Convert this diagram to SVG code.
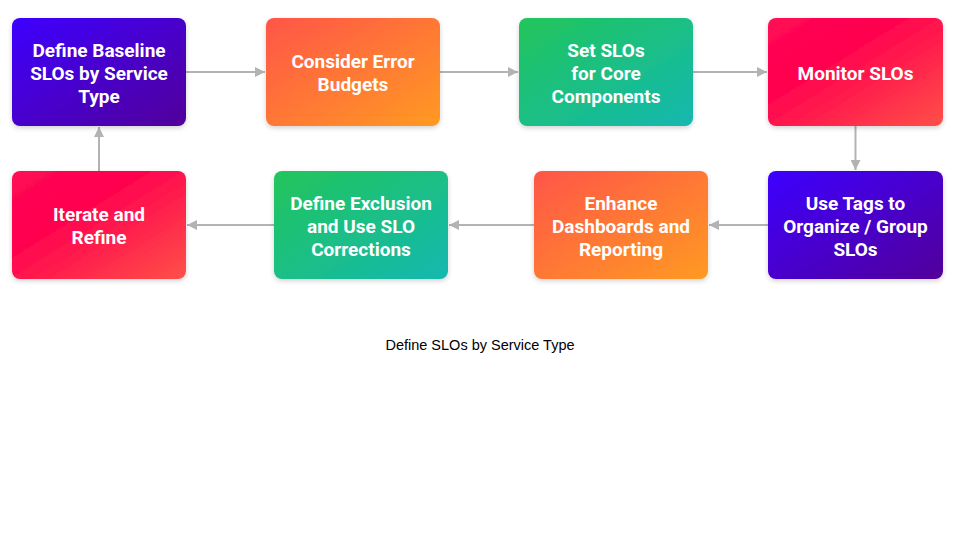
<svg xmlns="http://www.w3.org/2000/svg" width="960" height="540" viewBox="0 0 960 540">
<defs>
<linearGradient id="gPurple" x1="0" y1="0" x2="1" y2="1"><stop offset="0" stop-color="#3d00ff"/><stop offset="1" stop-color="#520099"/></linearGradient>
<linearGradient id="gOrange" x1="0" y1="0" x2="1" y2="1"><stop offset="0" stop-color="#ff5548"/><stop offset="1" stop-color="#ff9a22"/></linearGradient>
<linearGradient id="gGreen" x1="0" y1="0" x2="1" y2="1"><stop offset="0" stop-color="#22c55a"/><stop offset="1" stop-color="#14b8b0"/></linearGradient>
<linearGradient id="gRed" x1="0" y1="0" x2="1" y2="1"><stop offset="0" stop-color="#ff0a55"/><stop offset="0.35" stop-color="#ff0050"/><stop offset="1" stop-color="#ff5048"/></linearGradient>
<filter id="sh" x="-10%" y="-10%" width="120%" height="130%"><feDropShadow dx="0" dy="2" stdDeviation="2.5" flood-color="#000" flood-opacity="0.18"/></filter>
<marker id="ah" viewBox="0 0 10 10" refX="10" refY="5" markerWidth="5" markerHeight="5" orient="auto" markerUnits="strokeWidth"><path d="M0,0 L10,5 L0,10 z" fill="#b3b3b3"/></marker>
</defs>
<style>
.box{filter:url(#sh);}
.t{font-family:Roboto,"Liberation Sans",sans-serif;font-weight:bold;font-size:19px;fill:#ffffff;text-anchor:middle;}
.c{fill:none;stroke:#b3b3b3;stroke-width:2;marker-end:url(#ah);}
.cap{font-family:"Liberation Sans",Arial,sans-serif;font-size:14.5px;fill:#000;text-anchor:middle;}
</style>
<rect width="960" height="540" fill="#ffffff"/>
<g id="connectors">
<line class="c" x1="186" y1="72" x2="265" y2="72"/>
<line class="c" x1="440" y1="72" x2="518" y2="72"/>
<line class="c" x1="693" y1="72" x2="767" y2="72"/>
<line class="c" x1="855.5" y1="126" x2="855.5" y2="170"/>
<line class="c" x1="768" y1="225" x2="709" y2="225"/>
<line class="c" x1="534" y1="225" x2="449" y2="225"/>
<line class="c" x1="274" y1="225" x2="187" y2="225"/>
<line class="c" x1="99" y1="171" x2="99" y2="127"/>
</g>
<g id="n1"><rect class="box" x="12" y="18" width="174" height="108" rx="8" fill="url(#gPurple)"/>
<text class="t" x="99" y="56.5">Define Baseline</text><text class="t" x="99" y="79.5">SLOs by Service</text><text class="t" x="99" y="102.5">Type</text></g>
<g id="n2"><rect class="box" x="266" y="18" width="174" height="108" rx="8" fill="url(#gOrange)"/>
<text class="t" x="353" y="68">Consider Error</text><text class="t" x="353" y="91">Budgets</text></g>
<g id="n3"><rect class="box" x="519" y="18" width="174" height="108" rx="8" fill="url(#gGreen)"/>
<text class="t" x="606" y="56.5">Set SLOs</text><text class="t" x="606" y="79.5">for Core</text><text class="t" x="606" y="102.5">Components</text></g>
<g id="n4"><rect class="box" x="768" y="18" width="175" height="108" rx="8" fill="url(#gRed)"/>
<text class="t" x="855.5" y="79.5">Monitor SLOs</text></g>
<g id="n5"><rect class="box" x="768" y="171" width="175" height="108" rx="8" fill="url(#gPurple)"/>
<text class="t" x="855.5" y="209.5">Use Tags to</text><text class="t" x="855.5" y="232.5">Organize / Group</text><text class="t" x="855.5" y="255.5">SLOs</text></g>
<g id="n6"><rect class="box" x="534" y="171" width="174" height="108" rx="8" fill="url(#gOrange)"/>
<text class="t" x="621" y="209.5">Enhance</text><text class="t" x="621" y="232.5">Dashboards and</text><text class="t" x="621" y="255.5">Reporting</text></g>
<g id="n7"><rect class="box" x="274" y="171" width="174" height="108" rx="8" fill="url(#gGreen)"/>
<text class="t" x="361" y="209.5">Define Exclusion</text><text class="t" x="361" y="232.5">and Use SLO</text><text class="t" x="361" y="255.5">Corrections</text></g>
<g id="n8"><rect class="box" x="12" y="171" width="174" height="108" rx="8" fill="url(#gRed)"/>
<text class="t" x="99" y="221">Iterate and</text><text class="t" x="99" y="244">Refine</text></g>
<text class="cap" x="480" y="350">Define SLOs by Service Type</text>
</svg>
